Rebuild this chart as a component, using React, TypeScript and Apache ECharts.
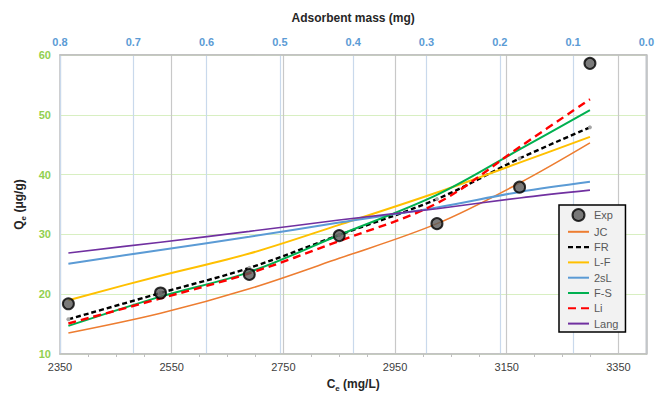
import { useEffect, useRef } from "react";
import * as echarts from "echarts";

// Equilibrium concentration (mg/L) of each experimental point
const ce = [2365, 2530, 2689, 2850, 3025, 3173, 3299];
// Experimental uptake (µg/g)
const expQe = [18.4, 20.2, 23.3, 29.8, 31.8, 37.9, 58.6];
// Isotherm model fits at the same concentrations
const jcQe = [13.5, 16.8, 20.9, 26.0, 31.8, 38.6, 45.3];
const frQe = [15.8, 20.2, 24.4, 29.9, 35.9, 42.7, 47.9];
const lfQe = [19.0, 23.1, 26.8, 31.6, 37.0, 42.0, 46.3];
const twoSlQe = [25.1, 27.4, 29.6, 32.0, 34.5, 37.1, 38.8];
const fsQe = [14.7, 19.6, 23.7, 29.9, 36.6, 44.2, 50.8];
const liQe = [15.1, 19.3, 23.5, 28.9, 35.2, 44.6, 52.6];
const langQe = [26.9, 28.7, 30.5, 32.4, 34.3, 36.1, 37.4];

const legendNames = ["Exp", "JC", "FR", "L-F", "2sL", "F-S", "Li", "Lang"];

const FONT = "'Liberation Sans', Arial, sans-serif";

// Legend marker for the FR fit: short black dashes
const FR_ICON = "path://M0,0h5v2.4h-5z M8,0h5v2.4h-5z M16,0h5v2.4h-5z";

const pairs = (ys: number[]) => ce.map((x, i) => [x, ys[i]]);

function fitLine(name: string, ys: number[], color: string, width: number, extra: any = {}) {
  return {
    name,
    type: "line",
    xAxisIndex: 0,
    data: pairs(ys),
    smooth: 0.35,
    symbol: "none",
    showSymbol: false,
    lineStyle: { color, width },
    itemStyle: { color },
    z: 3,
    ...extra,
  };
}

export default function App() {
  const ref = useRef<HTMLDivElement>(null);

  useEffect(() => {
    if (!ref.current) return;
    const chart = echarts.init(ref.current, undefined, { renderer: "svg" });
    const legendData = legendNames.map((name) => {
      if (name === "Exp") return { name };
      if (name === "FR") return { name, icon: FR_ICON, itemStyle: { color: "#000000" } };
      return { name, itemStyle: { opacity: 0 } };
    });
    chart.setOption({
      animation: false,
      backgroundColor: "#ffffff",
      textStyle: { fontFamily: FONT },
      grid: {
        left: 60,
        right: 10,
        top: 55,
        bottom: 39,
        show: true,
        borderColor: "#bfbfbf",
        borderWidth: 1.5,
        backgroundColor: "transparent",
      },
      legend: {
        data: legendData,
        orient: "vertical",
        left: 559,
        top: 205,
        backgroundColor: "#f2f2f2",
        borderColor: "#000000",
        borderWidth: 1.5,
        borderRadius: 0,
        padding: [3, 7, 3, 8],
        itemWidth: 21,
        itemHeight: 12,
        itemGap: 4.3,
        textStyle: { fontFamily: FONT, fontSize: 11, color: "#595959" },
      },
      xAxis: [
        {
          type: "value",
          position: "bottom",
          min: 2350,
          max: 3400,
          interval: 200,
          name: "{c|C}{s|e}{c| (mg/L)}",
          nameLocation: "middle",
          nameGap: 22,
          nameTextStyle: {
            rich: {
              c: { fontFamily: FONT, fontSize: 12, fontWeight: "bold", color: "#262626", lineHeight: 16 },
              s: { fontFamily: FONT, fontSize: 8, fontWeight: "bold", color: "#262626", lineHeight: 16, verticalAlign: "bottom" },
            },
          },
          axisLine: { show: true, lineStyle: { color: "#bfbfbf", width: 1.5 } },
          axisTick: { show: false },
          minorTick: { show: true, splitNumber: 4, length: 3, lineStyle: { color: "#bfbfbf" } },
          axisLabel: {
            margin: 7,
            fontFamily: FONT,
            fontSize: 11,
            color: "#404040",
            showMaxLabel: false,
            formatter: (v: number) => String(v),
          },
          splitLine: { show: true, lineStyle: { color: "#c8c8c8", width: 1.2 } },
        },
        {
          type: "value",
          position: "top",
          min: 0,
          max: 0.8,
          interval: 0.1,
          inverse: true,
          name: "Adsorbent mass (mg)",
          nameLocation: "middle",
          nameGap: 31,
          nameTextStyle: { fontFamily: FONT, fontSize: 12, fontWeight: "bold", color: "#262626" },
          axisLine: { show: true, lineStyle: { color: "#bfbfbf", width: 1.5 } },
          axisTick: { show: false },
          axisLabel: {
            margin: 8,
            fontFamily: FONT,
            fontSize: 11,
            fontWeight: "bold",
            color: "#5b9bd5",
            formatter: (v: number) => v.toFixed(1),
          },
          splitLine: { show: true, lineStyle: { color: "#c9d9ec", width: 1.2 } },
        },
      ],
      yAxis: {
        type: "value",
        min: 10,
        max: 60,
        interval: 10,
        name: "{q|Q}{s|e}{q| (μg/g)}",
        nameLocation: "middle",
        nameRotate: 90,
        nameGap: 33,
        nameTextStyle: {
          rich: {
            q: { fontFamily: FONT, fontSize: 12, fontWeight: "bold", color: "#262626", lineHeight: 16 },
            s: { fontFamily: FONT, fontSize: 8, fontWeight: "bold", color: "#262626", lineHeight: 16, verticalAlign: "bottom" },
          },
        },
        axisLine: { show: true, lineStyle: { color: "#bfbfbf", width: 1.5 } },
        axisTick: { show: false },
        axisLabel: {
          margin: 9,
          fontFamily: FONT,
          fontSize: 11,
          fontWeight: "bold",
          color: "#92d050",
        },
        splitLine: { show: true, lineStyle: { color: "#d8efc2", width: 1 } },
      },
      series: [
        {
          name: "Exp",
          type: "scatter",
          xAxisIndex: 0,
          data: pairs(expQe),
          symbol: "circle",
          symbolSize: 11,
          itemStyle: { color: "#595959", borderColor: "#000000", borderWidth: 2 },
          z: 10,
        },
        fitLine("JC", jcQe, "#ed7d31", 1.6),
        fitLine("FR", frQe, "#000000", 2.4, {
          symbol: "circle",
          showSymbol: true,
          symbolSize: 4,
          itemStyle: { color: "#a6a6a6", borderWidth: 0 },
          lineStyle: { color: "#000000", width: 2.4, type: [5, 3] },
        }),
        fitLine("L-F", lfQe, "#ffc000", 2),
        fitLine("2sL", twoSlQe, "#5b9bd5", 2),
        fitLine("F-S", fsQe, "#00b050", 2),
        fitLine("Li", liQe, "#ff0000", 2.4, {
          lineStyle: { color: "#ff0000", width: 2.4, type: [8, 5] },
        }),
        fitLine("Lang", langQe, "#7030a0", 1.6),
      ],
    });
    return () => chart.dispose();
  }, []);

  return (
    <div
      ref={ref}
      style={{ position: "fixed", left: 0, top: 0, width: 657, height: 397 }}
    />
  );
}
